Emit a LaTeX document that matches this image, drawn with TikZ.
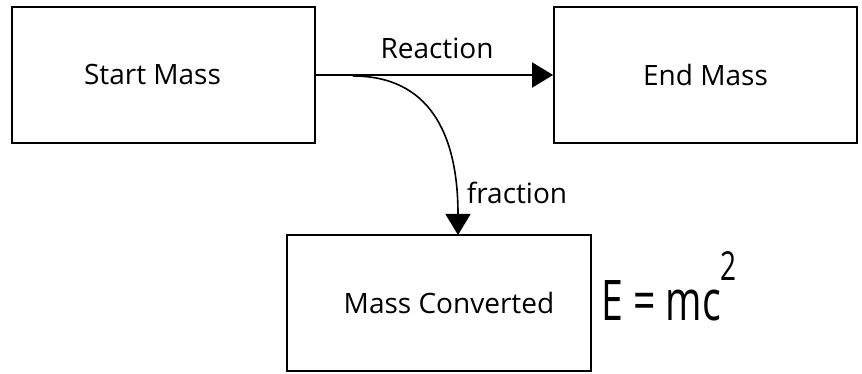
\documentclass[tikz,border=0pt]{standalone}
\usepackage{fontspec}
\usepackage{graphicx}
\setmainfont{Open Sans}
\usetikzlibrary{arrows.meta}
\begin{document}
\begin{tikzpicture}[x=1pt,y=-1pt,
  box/.style={draw,line width=1.8pt,minimum width=303pt,minimum height=136pt,inner sep=0pt,font=\fontsize{28}{30}\selectfont},
  lbl/.style={inner sep=0pt,font=\fontsize{28}{30}\selectfont},
  arr/.style={-{Triangle[length=21pt,width=25pt]},line width=1.8pt}]
\useasboundingbox (0,0) rectangle (862,374);
\node[box] (start) at (163.5,75) {\hspace*{-22pt}Start Mass};
\node[box] (end) at (705.5,75) {End Mass};
\node[box,minimum width=304pt] (conv) at (439,303) {\hspace*{20pt}Mass Converted};
\coordinate (split) at (353,76);
\coordinate (fend) at (458,235);
\draw[arr] (start.east) -- (end.west);
\draw[arr,line width=1.6pt] (split) .. controls (428,76) and (458,132) .. (fend);
\node[lbl] (reaction) at (437,48) {Reaction};
\node[lbl] (fraction) at (517,193) {fraction};
\node[anchor=base west,inner sep=0pt] (emc) at (601,320) {\scalebox{0.7}[1]{\fontsize{56}{60}\selectfont E = mc\raisebox{40pt}{\fontsize{40}{40}\selectfont 2}}};
\end{tikzpicture}
\end{document}
